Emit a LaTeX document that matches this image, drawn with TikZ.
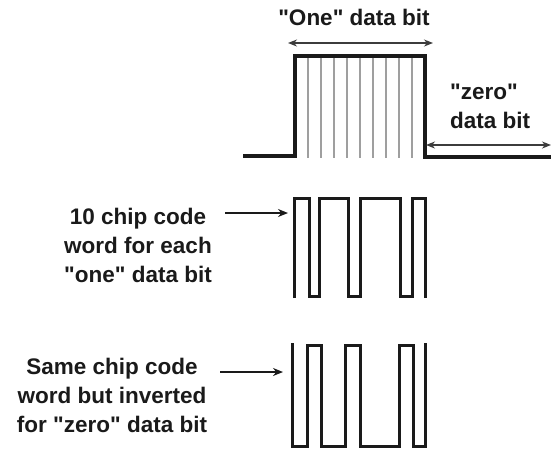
\documentclass[tikz,border=0pt]{standalone}
\usepackage{fontspec}
\setmainfont{Liberation Sans}
\usetikzlibrary{arrows.meta}
\definecolor{ink}{HTML}{1A1A1A}
\newcommand{\qq}{\textquotedbl}
\tikzset{
  lbl/.style={font=\fontsize{22.5}{29}\selectfont\bfseries, text=ink, inner sep=0pt, align=center},
  wave/.style={draw=ink, line width=3pt, line join=miter},
  chipline/.style={draw=gray!75, line width=1.6pt},
  dimarrow/.style={draw=ink!85, line width=1.4pt, {Stealth[length=9pt,width=7pt]}-{Stealth[length=9pt,width=7pt]}},
  ptr/.style={draw=ink, line width=1.6pt, -{Stealth[length=10pt,width=8pt]}}
}
\begin{document}
\begin{tikzpicture}[x=1pt,y=-1pt]
\useasboundingbox (0,0) rectangle (551,451);
\fill[white] (0,0) rectangle (551,451);
% chip lines inside one bit
\foreach \k in {1,...,9}{
  \draw[chipline] ({295+13*\k},56) -- ({295+13*\k},158);
}
% top waveform
\draw[wave, line width=3.5pt] (243,156) -- (295,156) -- (295,56) -- (425,56) -- (425,157) -- (551,157);
% dimension arrows
\coordinate (oneL) at (288,43);
\coordinate (oneR) at (433,43);
\draw[dimarrow] (oneL) -- (oneR);
\coordinate (zeroL) at (426,145);
\coordinate (zeroR) at (551,145);
\draw[dimarrow] (zeroL) -- (zeroR);
\node[lbl, anchor=base] (onebit) at (354,25) {\qq One\qq{} data bit};
\node[lbl, anchor=base west, align=left] (zerobit) at (450,128) {\qq zero\qq\\data bit};
% chip code word
\draw[wave] (294,298) -- (294,198) -- (309,198) -- (309,296) -- (319,296) -- (319,198) -- (348,198) -- (348,296) -- (360,296) -- (360,198) -- (400,198) -- (400,296) -- (412,296) -- (412,198) -- (425,198) -- (425,298);
% inverted chip code word
\draw[wave] (292,343) -- (292,446) -- (307,446) -- (307,345) -- (321,345) -- (321,446) -- (345,446) -- (345,345) -- (360,345) -- (360,446) -- (399,446) -- (399,345) -- (413,345) -- (413,446) -- (425,446) -- (425,343);
% labels
\node[lbl, anchor=base] (codeword) at (138,282) {10 chip code\\word for each\\\qq one\qq{} data bit};
\node[lbl, anchor=base] (invword) at (112,432) {Same chip code\\word but inverted\\for \qq zero\qq{} data bit};
\coordinate (p1s) at (225,213);
\coordinate (p1e) at (288,213);
\draw[ptr] (p1s) -- (p1e);
\coordinate (p2s) at (220,372);
\coordinate (p2e) at (283,372);
\draw[ptr] (p2s) -- (p2e);
\end{tikzpicture}
\end{document}
